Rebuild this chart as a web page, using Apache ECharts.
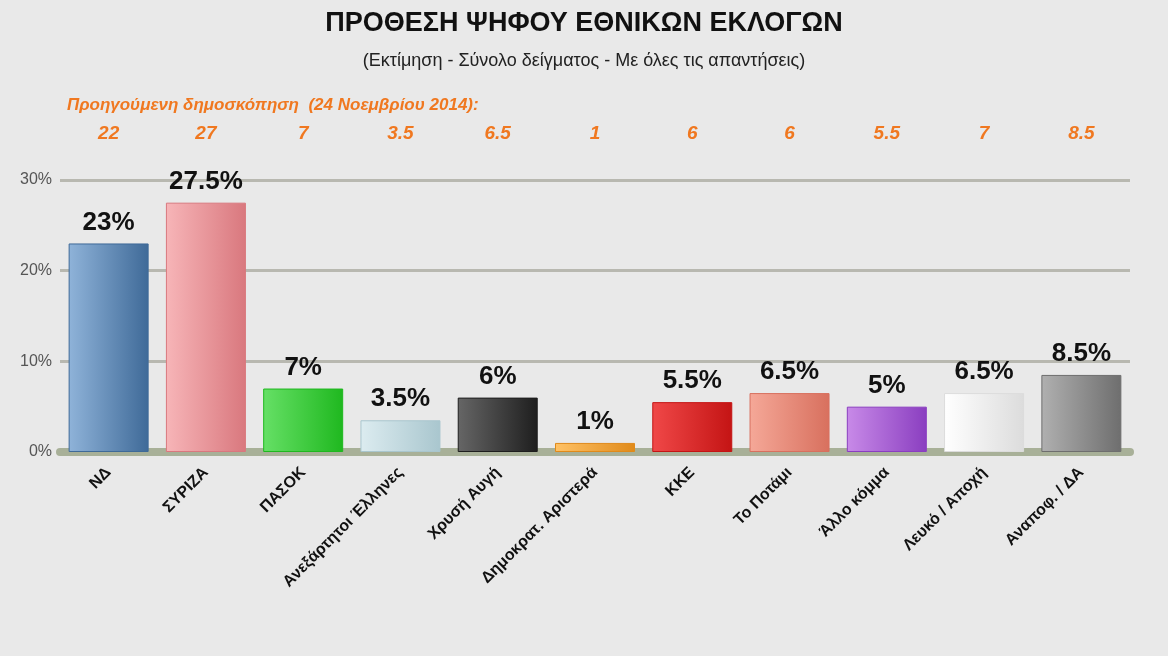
<!doctype html>
<html>
<head>
<meta charset="utf-8">
<script src="https://cdn.jsdelivr.net/npm/echarts@6/dist/echarts.min.js"></script>
<style>
html,body{margin:0;padding:0;background:#e9e9e9;}
#chart{width:1168px;height:656px;}
</style>
</head>
<body>
<div id="chart"></div>
<script>
var categories = ['ΝΔ', 'ΣΥΡΙΖΑ', 'ΠΑΣΟΚ', 'Ανεξάρτητοι Έλληνες', 'Χρυσή Αυγή', 'Δημοκρατ. Αριστερά', 'ΚΚΕ', 'Το Ποτάμι', 'Άλλο κόμμα', 'Λευκό / Αποχή', 'Αναποφ. / ΔΑ'];
var values = [23, 27.5, 7, 3.5, 6, 1, 5.5, 6.5, 5, 6.5, 8.5];
var previous = ['22', '27', '7', '3.5', '6.5', '1', '6', '6', '5.5', '7', '8.5'];
var colors = [['#8fb3d9', '#3f6a98'], ['#f7b5b8', '#d9787e'], ['#66e066', '#1fb81f'], ['#dcecf0', '#a9c6ce'],
              ['#666666', '#1e1e1e'], ['#ffc266', '#e08a1a'], ['#f04848', '#c41414'], ['#f5a898', '#d8705e'],
              ['#c88ae8', '#8a3ec0'], ['#ffffff', '#dcdcdc'], ['#b0b0b0', '#6e6e6e']];

var chart = echarts.init(document.getElementById('chart'));
chart.setOption({
  backgroundColor: '#e9e9e9',
  title: [
    {text: 'ΠΡΟΘΕΣΗ ΨΗΦΟΥ ΕΘΝΙΚΩΝ ΕΚΛΟΓΩΝ', left: 'center', top: 5,
     textStyle: {fontFamily: 'Liberation Sans', fontSize: 27, fontWeight: 'bold', color: '#111'}},
    {text: '(Εκτίμηση - Σύνολο δείγματος - Με όλες τις απαντήσεις)', left: 'center', top: 47,
     textStyle: {fontFamily: 'Liberation Sans', fontSize: 18, fontWeight: 'normal', color: '#222'}},
    {text: 'Προηγούμενη δημοσκόπηση  (24 Νοεμβρίου 2014):', left: 62, top: 92,
     textStyle: {fontFamily: 'Liberation Sans', fontSize: 17, fontWeight: 'bold', fontStyle: 'italic', color: '#f07820'}}
  ],
  grid: {left: 60, right: 38, top: 180, bottom: 204},
  xAxis: [
    {type: 'category', data: categories,
     axisLine: {lineStyle: {color: '#a8b098', width: 8}}, axisTick: {show: false},
     axisLabel: {rotate: 45, fontFamily: 'Liberation Sans', fontSize: 16, fontWeight: 'bold', color: '#111', margin: 18, interval: 0}},
    {type: 'category', data: previous, position: 'top', offset: 29,
     axisLine: {show: false}, axisTick: {show: false},
     axisLabel: {fontFamily: 'Liberation Sans', fontSize: 19, fontWeight: 'bold', fontStyle: 'italic', color: '#f07820', interval: 0}}
  ],
  yAxis: {type: 'value', min: 0, max: 30, interval: 10,
    axisLabel: {formatter: '{value}%', fontFamily: 'Liberation Sans', fontSize: 16, color: '#555'},
    splitLine: {lineStyle: {color: '#b8b8b0', width: 3}}, axisLine: {show: false}},
  series: [{
    type: 'bar', barWidth: 80,
    data: values.map(function (v, i) {
      return {value: v, itemStyle: {color: new echarts.graphic.LinearGradient(0, 0, 1, 0, [
        {offset: 0, color: colors[i][0]}, {offset: 1, color: colors[i][1]}]),
        borderColor: colors[i][1], borderWidth: 1}};
    }),
    label: {show: true, position: 'top', distance: 8, formatter: '{c}%',
      fontFamily: 'Liberation Sans', fontSize: 26, fontWeight: 'bold', color: '#111'}
  }]
});
</script>
</body>
</html>
